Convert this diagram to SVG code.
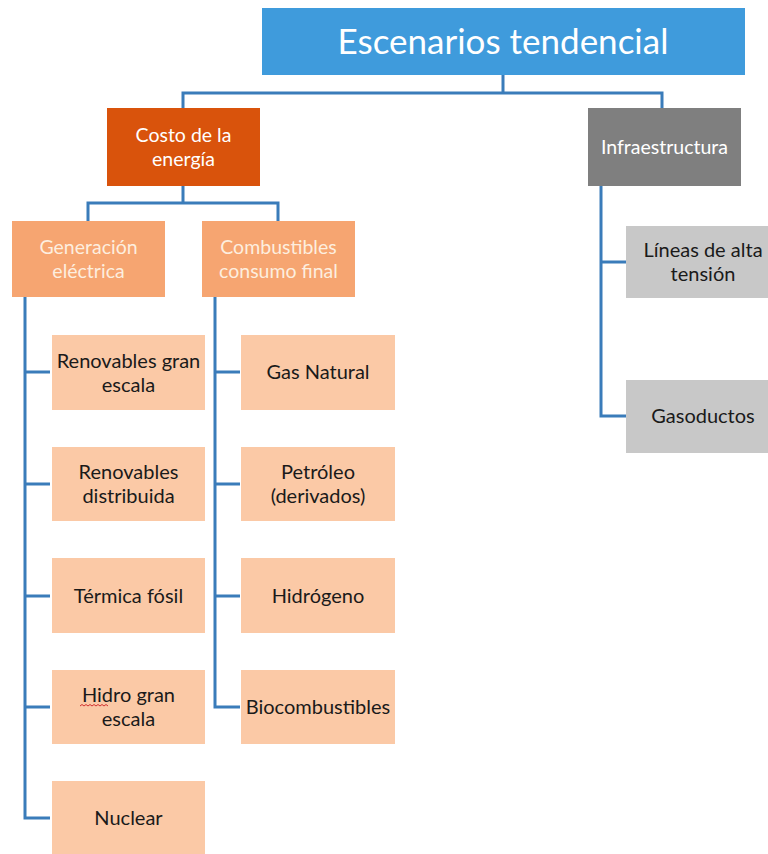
<svg xmlns="http://www.w3.org/2000/svg" width="768" height="854" viewBox="0 0 768 854">
<style>
text{font-family:Lato,"Open Sans","Liberation Sans",sans-serif;text-anchor:middle}
.conn{fill:none;stroke:#3A7CBA;stroke-width:3}
.title{font-size:35px;fill:#ffffff}
.w{font-size:19.5px;fill:#ffffff}
.p{font-size:19.5px;fill:#FDEEDF}
.d{font-size:20px;fill:#1a1a1a}
</style>
<rect width="768" height="854" fill="#ffffff"/>
<g id="connectors">
<path class="conn" d="M503,75 V93 M183,108 V93 H662 V108"/>
<path class="conn" d="M183,186 V203 M88,221 V203 H278 V221"/>
<path class="conn" d="M25,297 V818 H50 M25,372 H50 M25,484 H50 M25,596 H50 M25,707 H50"/>
<path class="conn" d="M215,297 V707 H240 M215,372 H240 M215,484 H240 M215,596 H240"/>
<path class="conn" d="M601,186 V416 H626 M601,262 H626"/>
</g>
<g id="n-root"><rect x="262" y="8" width="483" height="67" fill="#3F9BDC"/><text class="title" x="503" y="54">Escenarios tendencial</text></g>
<g id="n-costo"><rect x="107" y="108" width="153" height="78" fill="#D9530C"/><text class="w" x="183.5" y="142">Costo de la</text><text class="w" x="183.5" y="166">energía</text></g>
<g id="n-infra"><rect x="588" y="108" width="153" height="78" fill="#7F7F7F"/><text class="w" x="664.5" y="154">Infraestructura</text></g>
<g id="n-gen"><rect x="12" y="221" width="153" height="76" fill="#F6A571"/><text class="p" x="88.5" y="254">Generación</text><text class="p" x="88.5" y="278">eléctrica</text></g>
<g id="n-comb"><rect x="202" y="221" width="153" height="76" fill="#F6A571"/><text class="p" x="278.5" y="254">Combustibles</text><text class="p" x="278.5" y="278">consumo final</text></g>
<g id="n-ren-gran"><rect x="52" y="335" width="153" height="75" fill="#FBC9A6"/><text class="d" x="128.5" y="368">Renovables gran</text><text class="d" x="128.5" y="392">escala</text></g>
<g id="n-ren-dist"><rect x="52" y="447" width="153" height="74" fill="#FBC9A6"/><text class="d" x="128.5" y="479">Renovables</text><text class="d" x="128.5" y="503">distribuida</text></g>
<g id="n-termica"><rect x="52" y="558" width="153" height="75" fill="#FBC9A6"/><text class="d" x="128.5" y="603">Térmica fósil</text></g>
<g id="n-hidro"><rect x="52" y="670" width="153" height="74" fill="#FBC9A6"/><text class="d" x="128.5" y="702">Hidro gran</text><text class="d" x="128.5" y="726">escala</text><path d="M80,706 l2,-1.5 l2,1.5 l2,-1.5 l2,1.5 l2,-1.5 l2,1.5 l2,-1.5 l2,1.5 l2,-1.5 l2,1.5 l2,-1.5 l2,1.5 l2,-1.5 l2,1.5" fill="none" stroke="#D03030" stroke-width="1"/></g>
<g id="n-nuclear"><rect x="52" y="781" width="153" height="74" fill="#FBC9A6"/><text class="d" x="128.5" y="825">Nuclear</text></g>
<g id="n-gas"><rect x="241" y="335" width="154" height="75" fill="#FBC9A6"/><text class="d" x="318" y="379">Gas Natural</text></g>
<g id="n-petroleo"><rect x="241" y="447" width="154" height="74" fill="#FBC9A6"/><text class="d" x="318" y="479">Petróleo</text><text class="d" x="318" y="503">(derivados)</text></g>
<g id="n-hidrogeno"><rect x="241" y="558" width="154" height="75" fill="#FBC9A6"/><text class="d" x="318" y="603">Hidrógeno</text></g>
<g id="n-bio"><rect x="241" y="670" width="154" height="74" fill="#FBC9A6"/><text class="d" x="318" y="714">Biocombustibles</text></g>
<g id="n-lineas"><rect x="626" y="226" width="154" height="72" fill="#C8C8C8"/><text class="d" x="703" y="257">Líneas de alta</text><text class="d" x="703" y="281">tensión</text></g>
<g id="n-gasoductos"><rect x="626" y="380" width="154" height="73" fill="#C8C8C8"/><text class="d" x="703" y="423">Gasoductos</text></g>
</svg>
